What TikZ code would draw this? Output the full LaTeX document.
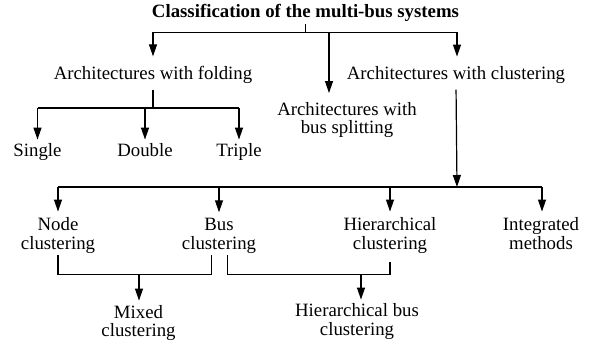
\documentclass[tikz,border=0pt]{standalone}
\usepackage{fontspec}
\setmainfont{Liberation Serif}
\usetikzlibrary{arrows.meta}
\begin{document}
\begin{tikzpicture}[x=1pt,y=-1pt,
  lbl/.style={anchor=base,inner sep=0pt,align=center,font=\fontsize{18.8}{18.3}\selectfont},
  ttl/.style={anchor=base,inner sep=0pt,font=\fontsize{18.8}{18.3}\selectfont\bfseries},
  ln/.style={line width=1.2pt},
  arr/.style={ln,-{Triangle[length=12pt,width=8pt]}}]
\useasboundingbox (0,0) rectangle (595,345);
% nodes (anchor base = baseline of the last line)
\node[ttl] (title) at (305.5,17.3) {Classification of the multi-bus systems};
\node[lbl] (fold) at (153,80) {Architectures with folding};
\node[lbl] (clus) at (456,80) {Architectures with clustering};
\node[lbl] (split) at (347,134) {Architectures with\\bus splitting};
\node[lbl] (single) at (37.5,157) {Single};
\node[lbl] (double) at (145,157) {Double};
\node[lbl] (triple) at (239,157) {Triple};
\node[lbl] (nodec) at (58,249) {Node\\clustering};
\node[lbl] (busc) at (219,249) {Bus\\clustering};
\node[lbl] (hierc) at (390,249) {Hierarchical\\clustering};
\node[lbl] (integ) at (541,249) {Integrated\\methods};
\node[lbl] (mixed) at (138.5,336.5) {Mixed\\clustering};
\node[lbl] (hbus) at (357,335) {Hierarchical bus\\clustering};
% junctions
\coordinate (j0) at (306,32.3);
\coordinate (jl) at (153,32.3);
\coordinate (jr) at (457,32.3);
\coordinate (jm) at (329,32.3);
\coordinate (jf) at (153,108);
\coordinate (jfl) at (37.5,108);
\coordinate (jfr) at (239,108);
\coordinate (jb) at (457,187);
\coordinate (jbl) at (58,187);
\coordinate (jbr) at (542,187);
\coordinate (mj) at (139,274.5);
\coordinate (hj) at (361,274.5);
% top level
\draw[ln,shorten <=2.6pt] (title.south) -- (title.south |- j0);
\draw[ln] (jl) -- (jr);
\draw[arr,shorten >=10.2pt] (jl) -- (jl |- fold.north);
\draw[arr,shorten >=9.4pt] (jm) -- (jm |- split.north);
\draw[arr,shorten >=10.2pt] (jr) -- (jr |- clus.north);
% folding
\draw[ln,shorten <=5.4pt] (fold.south) -- (jf);
\draw[ln] (jfl) -- (jfr);
\draw[arr,shorten >=4.2pt] (jfl) -- (jfl |- single.north);
\draw[arr,shorten >=4.2pt] (double.north |- jf) -- (double.north);
\draw[arr,shorten >=4.2pt] (jfr) -- (jfr |- triple.north);
% clustering
\draw[arr,shorten <=5.4pt] (clus.south) -- (jb);
\draw[ln] (jbl) -- (jbr);
\draw[arr,shorten >=5.9pt] (jbl) -- (nodec.north);
\draw[arr,shorten >=5.9pt] (busc.north |- jb) -- (busc.north);
\draw[arr,shorten >=5.9pt] (hierc.north |- jb) -- (hierc.north);
\draw[arr,shorten >=5.9pt] (jbr) -- (jbr |- integ.north);
% combinations
\draw[ln,shorten <=1.9pt,shorten >=1.9pt] (nodec.south) |- (mj) -| ([xshift=-7.3pt]busc.south);
\draw[arr,shorten >=4.4pt] (mj) -- (mj |- mixed.north);
\draw[ln,shorten <=1.9pt,shorten >=8.6pt] ([xshift=8.7pt]busc.south) |- (hj) -| (hierc.south);
\draw[arr,shorten >=3.9pt] (hj) -- (hj |- hbus.north);
\end{tikzpicture}
\end{document}
